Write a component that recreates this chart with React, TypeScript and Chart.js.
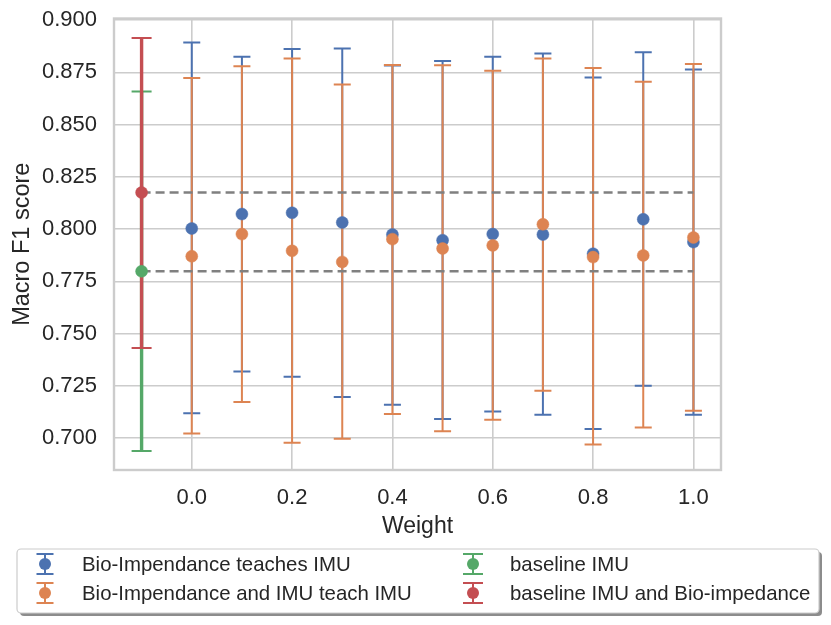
import { useEffect, useRef } from "react";
import Chart, { Plugin } from "chart.js/auto";

// x positions of the weighted runs
const weights = [0.0, 0.1, 0.2, 0.3, 0.4, 0.5, 0.6, 0.7, 0.8, 0.9, 1.0];

// Bio-Impendance teaches IMU
const teachMean = [0.8003, 0.8072, 0.8078, 0.8032, 0.7974, 0.7947, 0.7976, 0.7974, 0.7882, 0.8047, 0.7938];
const teachLower = [0.7119, 0.7319, 0.7293, 0.7196, 0.7159, 0.7091, 0.7127, 0.7112, 0.7043, 0.725, 0.7111];
const teachUpper = [0.8893, 0.8825, 0.8862, 0.8865, 0.8783, 0.8804, 0.8825, 0.8841, 0.8726, 0.8846, 0.8764];

// Bio-Impendance and IMU teach IMU
const jointMean = [0.787, 0.7976, 0.7896, 0.7843, 0.7952, 0.7907, 0.7922, 0.8023, 0.7866, 0.7874, 0.796];
const jointLower = [0.7022, 0.7173, 0.6978, 0.6997, 0.7115, 0.7032, 0.7088, 0.7226, 0.6969, 0.7051, 0.713];
const jointUpper = [0.8723, 0.878, 0.8817, 0.8692, 0.8785, 0.8784, 0.8758, 0.8817, 0.8771, 0.8705, 0.879];

// baselines, drawn at x = -0.1
const baselineX = [-0.1];
const imuMean = [0.7798];
const imuLower = [0.6938];
const imuUpper = [0.8659];
const fusionMean = [0.8175];
const fusionLower = [0.7431];
const fusionUpper = [0.8915];

const xTicks = [0.0, 0.2, 0.4, 0.6, 0.8, 1.0];
const yTicks = [0.7, 0.725, 0.75, 0.775, 0.8, 0.825, 0.85, 0.875, 0.9];

const BLUE = "#4C72B0";
const ORANGE = "#DD8452";
const GREEN = "#55A868";
const RED = "#C44E52";
const TEXT = "#262626";
const GRID = "#cccccc";
const FONT = "'Liberation Sans', Arial, sans-serif";

interface ErrorSeries {
  label: string;
  color: string;
  xs: number[];
  mean: number[];
  lower: number[];
  upper: number[];
  lineWidth: number;
  capWidth: number;
}

const series: ErrorSeries[] = [
  { label: "Bio-Impendance teaches IMU", color: BLUE, xs: weights, mean: teachMean, lower: teachLower, upper: teachUpper, lineWidth: 2, capWidth: 17 },
  { label: "Bio-Impendance and IMU teach IMU", color: ORANGE, xs: weights, mean: jointMean, lower: jointLower, upper: jointUpper, lineWidth: 2, capWidth: 17 },
  { label: "baseline IMU", color: GREEN, xs: baselineX, mean: imuMean, lower: imuLower, upper: imuUpper, lineWidth: 3.4, capWidth: 20 },
  { label: "baseline IMU and Bio-impedance", color: RED, xs: baselineX, mean: fusionMean, lower: fusionLower, upper: fusionUpper, lineWidth: 3.4, capWidth: 20 },
];

const drawErrorBar = (ctx: CanvasRenderingContext2D, x: number, yLo: number, yHi: number, s: ErrorSeries) => {
  ctx.strokeStyle = s.color;
  ctx.lineWidth = s.lineWidth;
  ctx.beginPath();
  ctx.moveTo(x, yLo);
  ctx.lineTo(x, yHi);
  ctx.stroke();
  ctx.lineWidth = 2;
  ctx.beginPath();
  ctx.moveTo(x - s.capWidth / 2, yLo);
  ctx.lineTo(x + s.capWidth / 2, yLo);
  ctx.moveTo(x - s.capWidth / 2, yHi);
  ctx.lineTo(x + s.capWidth / 2, yHi);
  ctx.stroke();
};

const errorBarPlugin: Plugin = {
  id: "errorBars",
  beforeDatasetsDraw(chart) {
    const { ctx, chartArea, scales } = chart;
    const xs = scales.x;
    const ys = scales.y;
    ctx.save();
    // plot frame
    ctx.strokeStyle = GRID;
    ctx.lineWidth = 2.4;
    ctx.strokeRect(chartArea.left, chartArea.top, chartArea.right - chartArea.left, chartArea.bottom - chartArea.top);

    series.forEach(s => {
      s.xs.forEach((xv, i) => {
        drawErrorBar(ctx, xs.getPixelForValue(xv), ys.getPixelForValue(s.lower[i]), ys.getPixelForValue(s.upper[i]), s);
      });
    });

    // reference lines at the baseline means
    ctx.strokeStyle = "#808080";
    ctx.lineWidth = 2.6;
    ctx.setLineDash([9, 5]);
    [imuMean[0], fusionMean[0]].forEach(v => {
      const y = ys.getPixelForValue(v);
      ctx.beginPath();
      ctx.moveTo(xs.getPixelForValue(baselineX[0]), y);
      ctx.lineTo(xs.getPixelForValue(weights[weights.length - 1]), y);
      ctx.stroke();
    });
    ctx.restore();
  },
};

const legendPlugin: Plugin = {
  id: "boxLegend",
  afterDraw(chart) {
    const { ctx } = chart;
    const bx = 17, by = 549, bw = 802, bh = 64;
    ctx.save();
    // shadow
    ctx.fillStyle = "rgba(0,0,0,0.45)";
    ctx.beginPath();
    ctx.roundRect(bx + 3, by + 3, bw, bh, 4);
    ctx.fill();
    ctx.fillStyle = "#ffffff";
    ctx.strokeStyle = GRID;
    ctx.lineWidth = 1.2;
    ctx.beginPath();
    ctx.roundRect(bx, by, bw, bh, 4);
    ctx.fill();
    ctx.stroke();

    const cols = [45, 473];
    const rows = [564, 593];
    series.forEach((s, k) => {
      const cx = cols[Math.floor(k / 2)];
      const cy = rows[k % 2];
      drawErrorBar(ctx, cx, cy + 10, cy - 10, { ...s, lineWidth: 2 });
      ctx.fillStyle = s.color;
      ctx.beginPath();
      ctx.arc(cx, cy, 6, 0, Math.PI * 2);
      ctx.fill();
      ctx.fillStyle = TEXT;
      ctx.font = `20.4px ${FONT}`;
      ctx.textBaseline = "middle";
      ctx.textAlign = "left";
      ctx.fillText(s.label, cx + 37, cy + 1);
    });
    ctx.restore();
  },
};

export default function App() {
  const chartRef = useRef<HTMLCanvasElement | null>(null);
  const chartInstanceRef = useRef<Chart | null>(null);

  useEffect(() => {
    if (!chartRef.current) return;
    document.body.style.margin = "0";

    if (chartInstanceRef.current) {
      chartInstanceRef.current.destroy();
    }

    // higher order values are drawn first
    const orders = [4, 3, 2, 1];

    chartInstanceRef.current = new Chart(chartRef.current, {
      type: "scatter",
      data: {
        datasets: series.map((s, k) => ({
          label: s.label,
          data: s.xs.map((x, i) => ({ x, y: s.mean[i] })),
          backgroundColor: s.color,
          borderColor: s.color,
          pointRadius: 6,
          pointBorderWidth: 0.5,
          order: orders[k],
        })),
      },
      options: {
        animation: false,
        responsive: false,
        events: [],
        layout: { padding: { left: 0, right: 110, top: 18.5, bottom: 85 } },
        plugins: {
          legend: { display: false },
          tooltip: { enabled: false },
        },
        scales: {
          x: {
            type: "linear",
            min: -0.155,
            max: 1.055,
            afterBuildTicks: scale => {
              scale.ticks = xTicks.map(value => ({ value }));
            },
            afterFit: scale => {
              scale.height = 70;
            },
            ticks: {
              callback: v => Number(v).toFixed(1),
              font: { family: FONT, size: 22 },
              color: TEXT,
              padding: 15,
              maxRotation: 0,
              autoSkip: false,
            },
            grid: { color: GRID, lineWidth: 1.6, drawTicks: false },
            border: { display: false },
            title: {
              display: true,
              text: "Weight",
              font: { family: FONT, size: 23 },
              color: TEXT,
              padding: { top: 0, bottom: 0 },
            },
          },
          y: {
            min: 0.6847,
            max: 0.9008,
            afterBuildTicks: scale => {
              scale.ticks = yTicks.map(value => ({ value }));
            },
            afterFit: scale => {
              scale.width = 114;
              // the layout padding already leaves room for the end labels
              scale.paddingTop = 0;
              scale.paddingBottom = 0;
            },
            ticks: {
              callback: v => Number(v).toFixed(3),
              font: { family: FONT, size: 22 },
              color: TEXT,
              padding: 17,
              autoSkip: false,
            },
            grid: { color: GRID, lineWidth: 1.6, drawTicks: false },
            border: { display: false },
            title: {
              display: true,
              text: "Macro F1 score",
              font: { family: FONT, size: 23.5 },
              color: TEXT,
              padding: { top: 8, bottom: 0 },
            },
          },
        },
      },
      plugins: [errorBarPlugin, legendPlugin],
    });

    return () => {
      if (chartInstanceRef.current) {
        chartInstanceRef.current.destroy();
        chartInstanceRef.current = null;
      }
    };
  }, []);

  return (
    <div style={{ width: 831, height: 625 }}>
      <canvas ref={chartRef} width={831} height={625} style={{ display: "block" }} />
    </div>
  );
}
